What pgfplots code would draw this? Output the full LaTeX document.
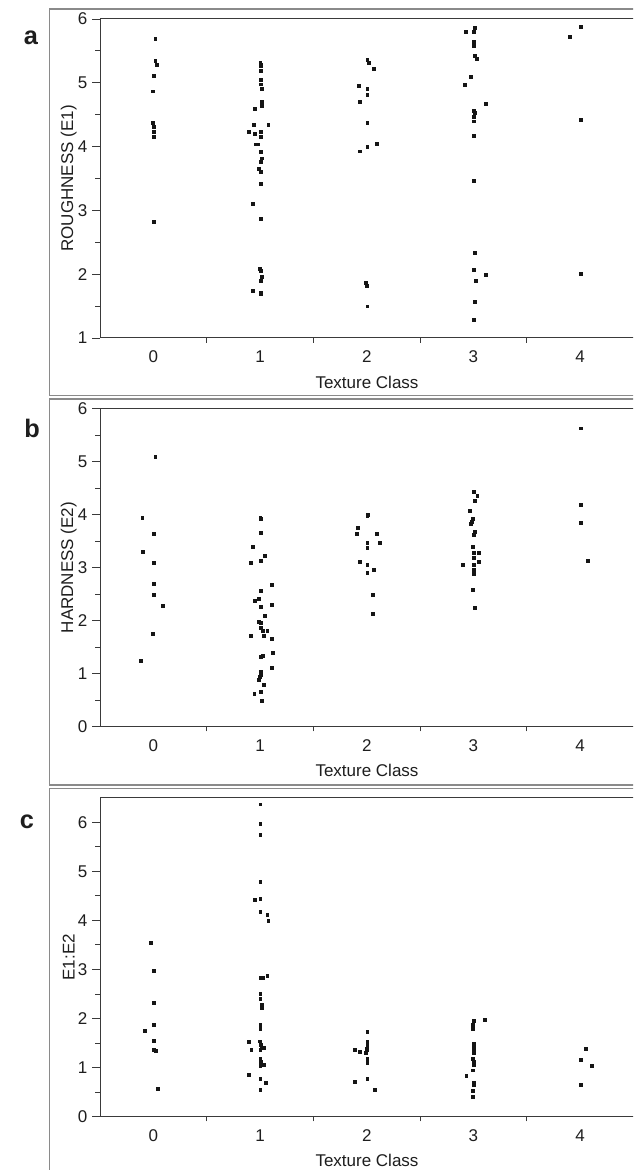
\documentclass[border=0pt]{standalone}
\usepackage{pgfplots}
\pgfplotsset{compat=1.18}
\usepackage{fontspec}
\setmainfont{Liberation Sans}
\definecolor{axcol}{HTML}{3A3A3A}
\definecolor{boxcol}{HTML}{8A8A8A}
\definecolor{txtcol}{HTML}{1E1E1E}
\definecolor{dotcol}{HTML}{151515}
\newcommand{\lblfont}{\fontsize{12.75}{15}\selectfont}
\pgfplotsset{
  panel/.style={
    scale only axis, width=404.9pt,
    xmin=-0.5, xmax=4.56,
    axis line style={draw=axcol, line width=0.75pt},
    xtick={0,1,2,3,4}, minor xtick={0.5,1.5,2.5,3.5},
    tick style={draw=axcol, line width=0.6pt},
    major x tick style={draw=none},
    tick align=outside, tick pos=left,
    major tick length=6pt, minor tick length=3.5pt,
    ticklabel style={font=\lblfont, text=txtcol},
    /pgf/number format/assume math mode=true,
    clip=false,
  },
  dots/.style={only marks, mark=square*, mark size=1.1pt, draw=dotcol, fill=dotcol, mark options={line width=0.1pt, draw=dotcol, fill=dotcol}},
}
\begin{document}
\begin{tikzpicture}
\useasboundingbox (0,0) rectangle (474.75pt,877.5pt);
\clip (0,0) rectangle (474.75pt,877.5pt);
\fill[white] (0,0) rectangle (474.75pt,877.5pt);
% outer panel boxes
\draw[boxcol, line width=0.9pt] (37.3pt,580.6pt) rectangle (490pt,870.7pt);
\draw[boxcol, line width=0.9pt] (37.3pt,288.8pt) rectangle (490pt,578.3pt);
\draw[boxcol, line width=0.9pt] (37.3pt,-20pt) rectangle (490pt,286pt);
% panel letters
\node[font=\fontsize{19}{22}\bfseries\selectfont, text=txtcol, anchor=base] at (23.25pt,843.75pt) {a};
\node[font=\fontsize{19}{22}\bfseries\selectfont, text=txtcol, anchor=base] at (24pt,549pt) {b};
\node[font=\fontsize{19}{22}\bfseries\selectfont, text=txtcol, anchor=base] at (20.25pt,256pt) {c};
% axis labels
\node[font=\lblfont, text=txtcol, rotate=90] at (51.45pt,743.6pt) {ROUGHNESS (E1)};
\node[font=\lblfont, text=txtcol, rotate=90] at (51.45pt,451.8pt) {HARDNESS (E2)};
\node[font=\lblfont, text=txtcol, rotate=90] at (51.45pt,159.6pt) {E1:E2};
\node[font=\lblfont, text=txtcol] at (275.25pt,591pt) {Texture Class};
\node[font=\lblfont, text=txtcol] at (275.25pt,300pt) {Texture Class};
\node[font=\lblfont, text=txtcol] at (275.25pt,7pt) {Texture Class};

% ---------- panel a ----------
\begin{axis}[panel, at={(75pt,624pt)}, anchor=south west, height=239.25pt,
  ymin=1, ymax=6, ytick={1,2,3,4,5,6}, minor ytick={1.5,2.5,3.5,4.5,5.5}]
\addplot[dots] table {
x y
0.016 5.70
0.016 5.35
0.030 5.28
0.006 5.12
-0.006 4.87
-0.006 4.38
0.006 4.32
0.000 4.24
0.006 4.15
0.003 2.83
1.000 5.31
1.005 5.29
1.003 5.27
1.003 5.19
1.003 5.055
1.003 4.98
1.012 4.905
1.012 4.70
1.012 4.64
0.953 4.60
0.937 4.35
1.075 4.35
0.890 4.24
0.953 4.21
1.003 4.24
1.003 4.15
0.960 4.04
0.980 4.04
1.003 3.92
1.012 3.82
1.003 3.77
0.990 3.65
1.003 3.61
1.003 3.42
0.934 3.11
1.003 2.87
0.995 2.09
1.003 2.05
1.012 1.97
1.003 1.90
0.934 1.74
1.003 1.71
1.003 1.69
2.003 5.36
2.015 5.31
2.066 5.22
1.925 4.95
2.003 4.91
2.003 4.82
1.934 4.70
2.003 4.37
2.088 4.05
2.003 4.00
1.934 3.93
1.988 1.87
1.997 1.82
2.003 1.50
3.012 5.87
2.922 5.80
3.000 5.80
3.000 5.645
3.000 5.59
3.012 5.42
3.025 5.38
2.975 5.10
2.913 4.97
3.110 4.67
3.000 4.565
3.012 4.54
3.000 4.47
3.000 4.40
3.000 4.17
3.000 3.47
3.012 2.34
3.000 2.07
3.110 1.99
3.022 1.90
3.012 1.57
3.000 1.29
3.900 5.73
4.000 5.88
4.000 4.43
4.000 2.01
};
\end{axis}

% ---------- panel b ----------
\begin{axis}[panel, at={(75pt,332.5pt)}, anchor=south west, height=238.65pt,
  ymin=0, ymax=6, ytick={0,1,2,3,4,5,6}, minor ytick={0.5,1.5,2.5,3.5,4.5,5.5}]
\addplot[dots] table {
x y
0.016 5.10
-0.106 3.94
0.003 3.64
-0.097 3.30
0.003 3.10
0.003 2.70
0.003 2.49
0.084 2.29
-0.006 1.75
-0.116 1.25
1.000 3.95
1.003 3.92
1.003 3.66
0.928 3.40
0.912 3.10
1.003 3.14
1.044 3.22
1.110 2.68
1.003 2.56
0.990 2.42
0.953 2.37
1.003 2.26
1.106 2.30
1.044 2.10
0.990 1.98
1.003 1.97
1.003 1.87
1.020 1.82
1.066 1.81
0.910 1.72
1.035 1.72
1.110 1.66
1.003 1.32
1.020 1.34
1.120 1.40
1.110 1.11
1.003 1.04
1.003 0.99
0.995 0.94
0.985 0.89
1.035 0.79
0.944 0.63
1.003 0.67
1.012 0.49
2.012 4.00
2.003 3.98
1.916 3.76
1.903 3.64
2.094 3.64
2.003 3.47
2.120 3.48
2.003 3.38
1.934 3.12
2.003 3.05
2.063 2.96
2.003 2.90
2.053 2.49
2.053 2.13
3.000 4.43
3.034 4.36
3.012 4.26
2.962 4.08
2.990 3.92
2.980 3.87
2.972 3.83
3.012 3.68
3.003 3.63
2.994 3.40
3.003 3.28
3.044 3.28
3.003 3.18
3.044 3.12
2.894 3.05
3.003 3.05
3.003 2.96
3.003 2.92
3.003 2.88
2.994 2.58
3.012 2.24
4.000 5.63
4.000 4.18
4.000 3.84
4.070 3.14
};
\end{axis}

% ---------- panel c ----------
\begin{axis}[panel, at={(75pt,40pt)}, anchor=south west, height=239.25pt,
  ymin=0, ymax=6.5, ytick={0,1,2,3,4,5,6}, minor ytick={0.5,1.5,2.5,3.5,4.5,5.5}]
\addplot[dots] table {
x y
-0.030 3.55
0.003 2.97
0.003 2.32
0.003 1.87
-0.084 1.75
0.003 1.56
0.003 1.36
0.025 1.34
0.040 0.58
1.000 6.37
1.000 5.98
1.000 5.75
1.000 4.79
0.953 4.42
1.000 4.44
1.000 4.18
1.066 4.12
1.075 3.99
1.000 2.83
1.020 2.83
1.066 2.87
1.000 2.50
1.000 2.40
1.012 2.28
1.012 2.22
1.000 1.88
1.000 1.80
0.890 1.53
0.997 1.54
1.003 1.47
1.012 1.40
1.035 1.40
1.000 1.36
0.916 1.36
1.000 1.19
1.003 1.12
1.035 1.07
1.000 1.05
0.890 0.85
1.000 0.78
1.056 0.70
1.000 0.56
2.003 1.73
2.003 1.54
2.003 1.46
1.997 1.39
2.003 1.36
1.884 1.37
1.934 1.32
1.988 1.30
2.003 1.18
2.003 1.10
1.884 0.71
2.003 0.78
2.075 0.56
3.003 1.95
2.994 1.87
2.988 1.80
3.106 1.97
3.003 1.50
3.003 1.46
3.003 1.41
3.003 1.36
3.003 1.31
2.994 1.18
3.003 1.13
3.003 1.07
2.994 0.95
2.931 0.83
3.003 0.70
3.003 0.65
2.994 0.54
2.988 0.41
4.000 1.17
4.050 1.39
4.110 1.05
4.000 0.65
};
\end{axis}
\end{tikzpicture}
\end{document}
